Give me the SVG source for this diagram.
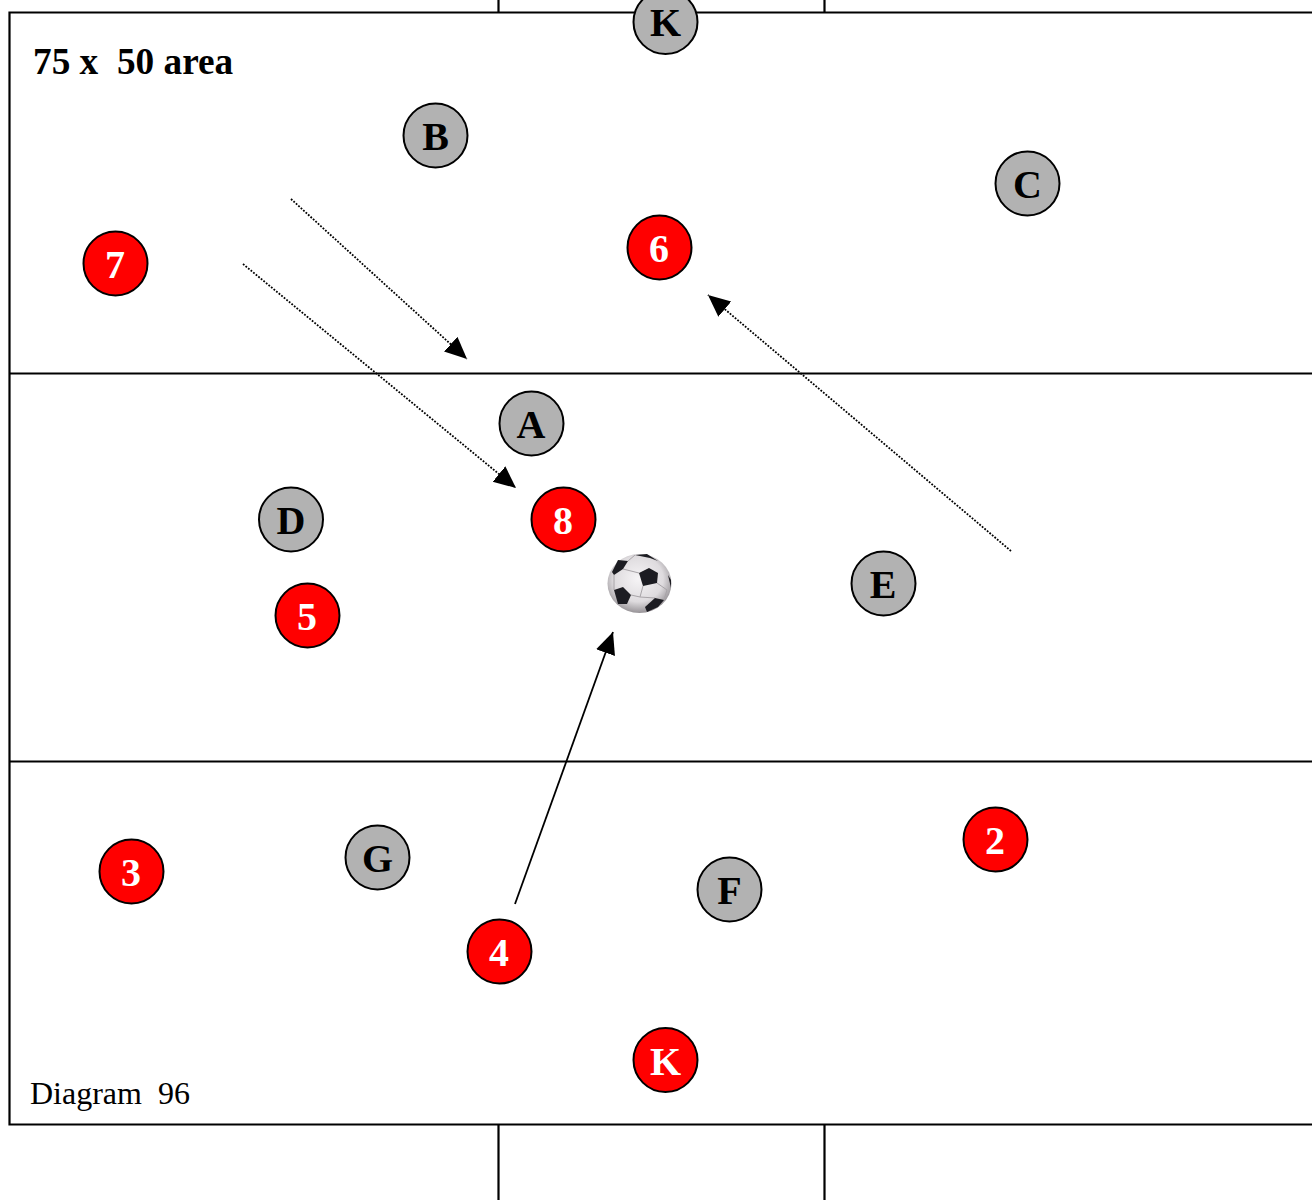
<svg xmlns="http://www.w3.org/2000/svg" width="1312" height="1200" viewBox="0 0 1312 1200">
<style>
.field{fill:none;stroke:#000;stroke-width:2.200}
.dot{stroke:#000;stroke-width:1.800;stroke-dasharray:1.800 1.500;fill:none}
.solid{stroke:#000;stroke-width:1.800;fill:none}
.p{stroke:#000;stroke-width:2}
.grey{fill:#b2b2b2}
.red{fill:#ff0000}
.t{font-family:"Liberation Serif","Times New Roman",serif;font-weight:700;font-size:40px;text-anchor:middle}
.tg{fill:#000}
.tr{fill:#fff}
.pent{fill:#1c1c20}
.seam{fill:none;stroke:#a8a4a8;stroke-width:1}
</style>
<defs>
<marker id="ah" markerUnits="userSpaceOnUse" markerWidth="24" markerHeight="22" refX="22" refY="10" orient="auto" viewBox="0 0 24 22">
<path d="M0 0L22 10L0 20Z" fill="#000"/>
</marker>
<radialGradient id="ballg" cx="0.48" cy="0.42" r="0.6">
<stop offset="0" stop-color="#f6f4f6"/>
<stop offset="0.65" stop-color="#dedbde"/>
<stop offset="1" stop-color="#8f8b8f"/>
</radialGradient>
<filter id="soft" x="-10%" y="-10%" width="120%" height="120%"><feGaussianBlur stdDeviation="0.6"/></filter>
</defs>
<g id="field">
<path class="field" d="M1312 12.500H9.500V1124.500H1312"/>
<path class="field" d="M9.500 373.500H1312M9.500 761.500H1312"/>
<path class="field" d="M498.500 0V12M824.500 0V12M498.500 1124.500V1200M824.500 1124.500V1200"/>
</g>
<g id="connectors">
<path class="dot" d="M291 199L467 359" marker-end="url(#ah)"/>
<path class="dot" d="M243 264L516 488" marker-end="url(#ah)"/>
<path class="dot" d="M1011 551L708 295" marker-end="url(#ah)"/>
<path class="solid" d="M515 904L613 632" marker-end="url(#ah)"/>
</g>
<g id="ball" filter="url(#soft)">
<ellipse cx="639.500" cy="583.500" rx="32" ry="29.500" fill="url(#ballg)"/>
<path class="seam" d="M623 569L639 573M643 586L640 597L631 595M640 597L655 598M657 583L667 590L664 600M628 561L635 555M614 575L614 590"/>
<path class="pent" d="M612 572L618 560L628 561L623 569L614 575Z"/>
<path class="pent" d="M639 573L649 568L658 573L657 583L643 586Z"/>
<path class="pent" d="M614 590L623 587L631 595L627 604L618 604Z"/>
<path class="pent" d="M645 607L655 598L664 600L658 607L647 612Z"/>
<path class="pent" d="M635 555L647 554L658 561L650 558Z"/>
<path class="pent" d="M668 575L671 580L671 588Z"/>
</g>
<g id="k-top"><circle class="p grey" cx="665.500" cy="22" r="32"/><text class="t tg" x="665.500" y="36">K</text></g>
<g id="b"><circle class="p grey" cx="435.500" cy="135.500" r="32"/><text class="t tg" x="435.500" y="150">B</text></g>
<g id="c"><circle class="p grey" cx="1027.500" cy="183.500" r="32"/><text class="t tg" x="1027.500" y="198">C</text></g>
<g id="p7"><circle class="p red" cx="115.500" cy="263.500" r="32"/><text class="t tr" x="115" y="278">7</text></g>
<g id="p6"><circle class="p red" cx="659.500" cy="247.500" r="32"/><text class="t tr" x="659" y="262">6</text></g>
<g id="a"><circle class="p grey" cx="531.500" cy="423.500" r="32"/><text class="t tg" x="531" y="438">A</text></g>
<g id="d"><circle class="p grey" cx="291" cy="519.500" r="32"/><text class="t tg" x="291" y="534">D</text></g>
<g id="p8"><circle class="p red" cx="563.500" cy="519.500" r="32"/><text class="t tr" x="563" y="534">8</text></g>
<g id="e"><circle class="p grey" cx="883.500" cy="583.500" r="32"/><text class="t tg" x="883" y="598">E</text></g>
<g id="p5"><circle class="p red" cx="307.500" cy="615.500" r="32"/><text class="t tr" x="307" y="630">5</text></g>
<g id="p2"><circle class="p red" cx="995.500" cy="839.500" r="32"/><text class="t tr" x="995" y="854">2</text></g>
<g id="g"><circle class="p grey" cx="377.500" cy="857.500" r="32"/><text class="t tg" x="377.500" y="872">G</text></g>
<g id="p3"><circle class="p red" cx="131.500" cy="871.500" r="32"/><text class="t tr" x="131" y="886">3</text></g>
<g id="f"><circle class="p grey" cx="729.500" cy="889.500" r="32"/><text class="t tg" x="729.500" y="904">F</text></g>
<g id="p4"><circle class="p red" cx="499.500" cy="951.500" r="32"/><text class="t tr" x="499" y="966">4</text></g>
<g id="k-bottom"><circle class="p red" cx="665.500" cy="1060" r="32"/><text class="t tr" x="665.500" y="1075">K</text></g>
<g id="labels">
<text x="33" y="74" xml:space="preserve" style="font-family:'Liberation Serif','Times New Roman',serif;font-weight:700;font-size:37.300px">75 x  50 area</text>
<text x="30" y="1104" xml:space="preserve" style="font-family:'Liberation Serif','Times New Roman',serif;font-size:32px">Diagram  96</text>
</g>
</svg>
